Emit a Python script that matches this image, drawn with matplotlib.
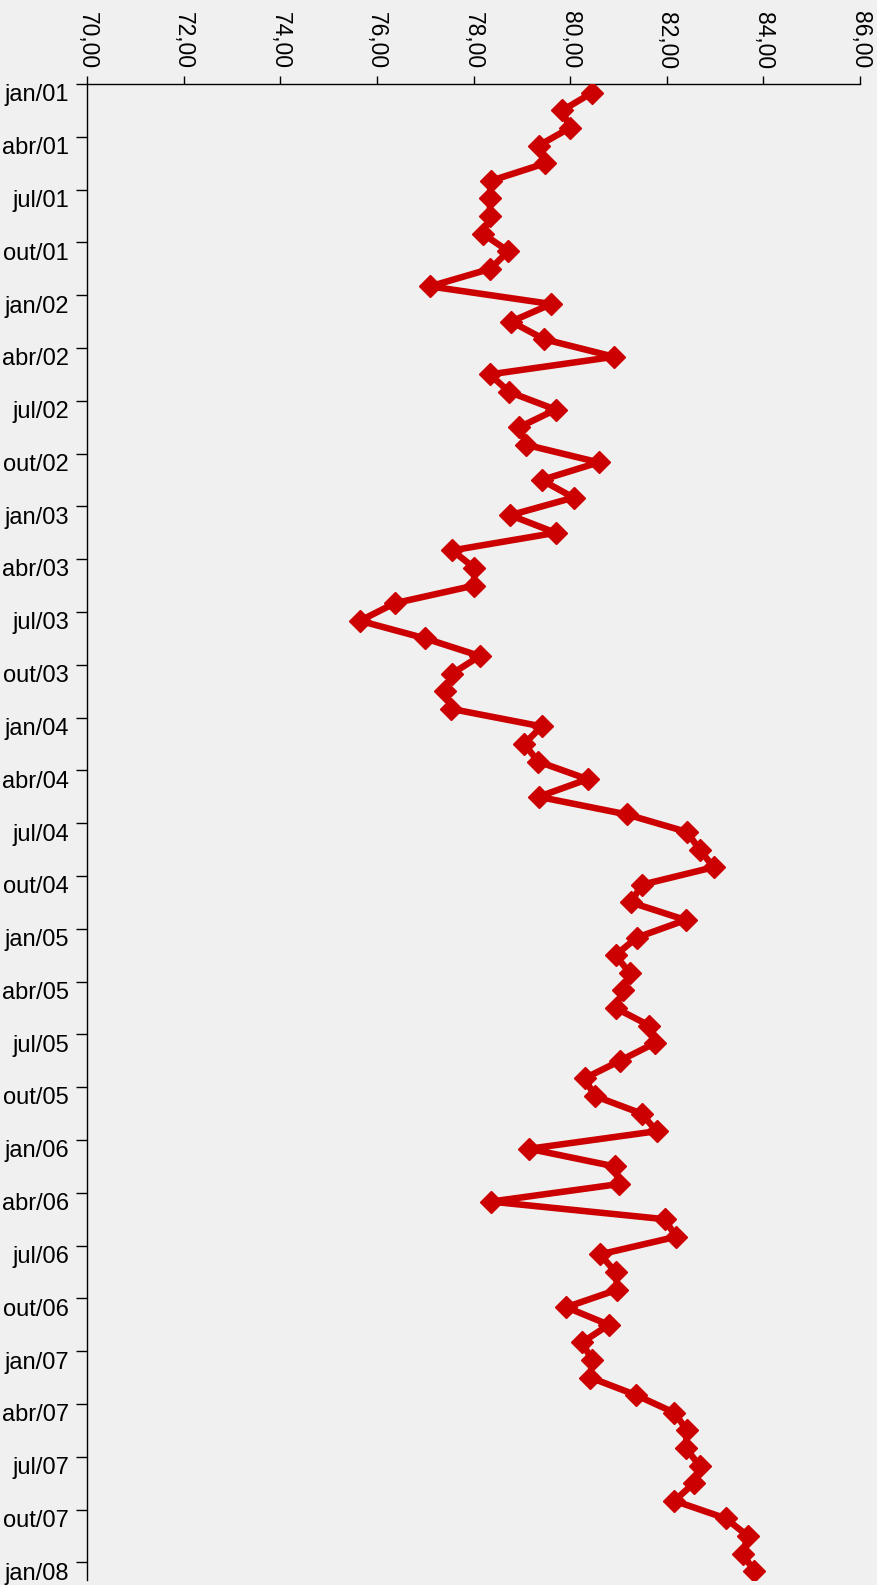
import matplotlib
matplotlib.use("Agg")
import matplotlib.pyplot as plt
from matplotlib.ticker import FixedLocator, NullFormatter

plt.rcParams['font.family'] = ['Liberation Sans', 'DejaVu Sans']

months = ["jan", "fev", "mar", "abr", "mai", "jun", "jul", "ago", "set", "out", "nov", "dez"]
categories = [f"{m}/{y:02d}" for y in range(1, 8) for m in months] + ["jan/08"]

values = [
    80.45, 79.84, 79.99, 79.35, 79.49, 78.36, 78.34, 78.34, 78.19, 78.72, 78.35, 77.10,
    79.61, 78.78, 79.46, 80.91, 78.34, 78.74, 79.70, 78.95, 79.09, 80.59, 79.41, 80.07,
    78.76, 79.70, 77.56, 78.02, 78.01, 76.37, 75.65, 77.00, 78.13, 77.56, 77.41, 77.53,
    79.41, 79.05, 79.34, 80.36, 79.35, 81.17, 82.42, 82.68, 82.97, 81.48, 81.26, 82.39,
    81.38, 80.94, 81.23, 81.09, 80.94, 81.64, 81.75, 81.03, 80.30, 80.51, 81.48, 81.79,
    79.15, 80.92, 81.02, 78.36, 81.96, 82.19, 80.62, 80.94, 80.98, 79.92, 80.80, 80.25,
    80.45, 80.42, 81.37, 82.16, 82.42, 82.39, 82.68, 82.56, 82.16, 83.22, 83.68, 83.57,
    83.81,
]

x_ticks = [70, 72, 74, 76, 78, 80, 82, 84, 86]
x_tick_labels = [f"{v:.2f}".replace(".", ",") for v in x_ticks]

W, H = 877, 1585
fig = plt.figure(figsize=(W / 100, H / 100), dpi=100, facecolor="#f0f0f0")
left, right, top, bottom = 87, 860, 84, 1580
ax = fig.add_axes([left / W, 1 - bottom / H, (right - left) / W, (bottom - top) / H])
ax.set_facecolor("#f0f0f0")

pos = list(range(len(categories)))
ax.plot(values, pos, color="#cc0000", lw=4.7, marker="D", markersize=10.8,
        markeredgewidth=1, markeredgecolor="#cc0000", markerfacecolor="#cc0000",
        solid_joinstyle="round", solid_capstyle="round", zorder=3)

ax.set_xlim(70, 86)
ax.set_ylim(len(categories) - 0.5, -0.5)

# x axis on top
ax.xaxis.tick_top()
ax.set_xticks(x_ticks)
ax.set_xticklabels(x_tick_labels, rotation=-90, fontsize=16.5)
ax.tick_params(axis="x", direction="out", length=6, width=1, pad=5, colors="black")

# y axis: ticks at category boundaries every 3, labels at category centres
major = [i - 0.5 for i in range(0, len(categories), 3)]
ax.yaxis.set_major_locator(FixedLocator(major))
ax.yaxis.set_major_formatter(NullFormatter())
label_pos = list(range(0, len(categories), 3))
ax.yaxis.set_minor_locator(FixedLocator(label_pos))
ax.set_yticklabels([categories[i] for i in label_pos], minor=True, fontsize=17)
ax.tick_params(axis="y", which="major", direction="out", length=8, width=1)
ax.tick_params(axis="y", which="minor", length=0, pad=13)

for s in ["right", "bottom"]:
    ax.spines[s].set_visible(False)
for s in ["left", "top"]:
    ax.spines[s].set_linewidth(1)
    ax.spines[s].set_color("black")

fig.savefig("out.png", dpi=100, facecolor=fig.get_facecolor())
